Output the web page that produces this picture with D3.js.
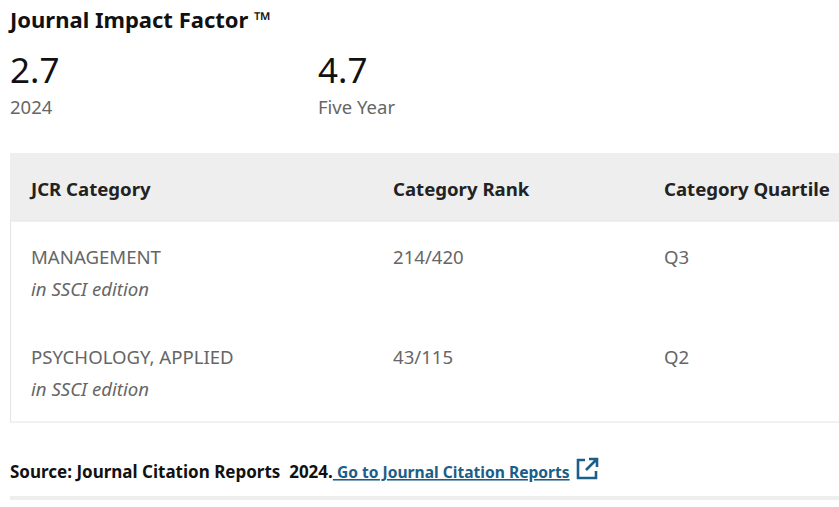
<!DOCTYPE html>
<html><head><meta charset="utf-8">
<script src="https://cdn.jsdelivr.net/npm/d3@7"></script>
<style>body{margin:0;background:#fff}text{font-family:"Source Sans Pro","Noto Sans",sans-serif}</style>
</head><body><svg id="c" width="839" height="507"></svg>
<script>
const metricValues = ["2.7", "4.7"];
const metricLabels = ["2024", "Five Year"];
const headers = ["JCR Category", "Category Rank", "Category Quartile"];
const categories = ["MANAGEMENT", "PSYCHOLOGY, APPLIED"];
const editions = ["in SSCI edition", "in SSCI edition"];
const ranks = ["214/420", "43/115"];
const quartiles = ["Q3", "Q2"];

const svg = d3.select("#c");
svg.append("text").attr("x",10).attr("y",28).attr("font-size",22).attr("font-weight",700).attr("fill","#111").text("Journal Impact Factor ™");
const mx = d3.scalePoint().domain(metricValues.map((d,i)=>i)).range([10,318]);
metricValues.forEach((v,i)=>{
  svg.append("text").attr("x",mx(i)).attr("y",83).attr("font-size",35).attr("fill","#111").text(v);
  svg.append("text").attr("x",mx(i)).attr("y",114).attr("font-size",18.5).attr("fill","#666").text(metricLabels[i]);
});
const cx = d3.scaleOrdinal().domain(headers).range([31,393,664]);
svg.append("rect").attr("x",10).attr("y",153).attr("width",829).attr("height",68).attr("fill","#eeeeee");
svg.append("rect").attr("x",10.5).attr("y",221).attr("width",830).attr("height",201).attr("fill","none").attr("stroke","#e4e4e4");
headers.forEach(h=>svg.append("text").attr("x",cx(h)).attr("y",196).attr("font-size",18.6).attr("font-weight",700).attr("fill","#222").text(h));
const ry = d3.scaleBand().domain(categories).range([221,421]);
categories.forEach((c,i)=>{
  const y = ry(c)+43;
  svg.append("text").attr("x",cx(headers[0])).attr("y",y).attr("font-size",18.6).attr("fill","#666").text(c);
  svg.append("text").attr("x",cx(headers[0])).attr("y",y+32).attr("font-size",18.6).attr("font-style","italic").attr("fill","#666").text(editions[i]);
  svg.append("text").attr("x",cx(headers[1])).attr("y",y).attr("font-size",18.6).attr("fill","#666").text(ranks[i]);
  svg.append("text").attr("x",cx(headers[2])).attr("y",y).attr("font-size",18.6).attr("fill","#666").text(quartiles[i]);
});
const t = svg.append("text").attr("x",10).attr("y",478).attr("font-size",17).attr("font-weight",700).attr("fill","#111").attr("xml:space","preserve").style("white-space","pre");
t.append("tspan").text("Source: Journal Citation Reports  2024.");
t.append("tspan").attr("fill","#1b5e88").attr("text-decoration","underline").attr("font-size",15.6).text(" Go to Journal Citation Reports");
const ic = svg.append("g").attr("stroke","#1b5e88").attr("stroke-width",2.6).attr("fill","none");
ic.append("path").attr("d","M585 460 H578 V478 H596 V471");
ic.append("path").attr("d","M586 470 L597 459 M589 459 H597 V467");
svg.append("rect").attr("x",10).attr("y",496).attr("width",829).attr("height",4).attr("fill","#eeeeee");
</script></body></html>
